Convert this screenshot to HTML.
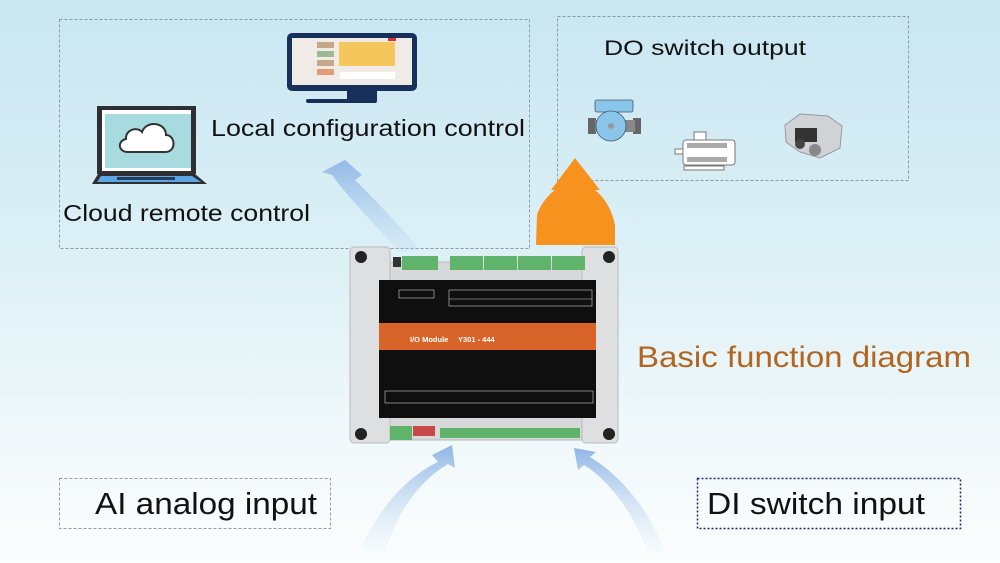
<!DOCTYPE html>
<html><head><meta charset="utf-8"><style>
html,body{margin:0;padding:0;}
body{width:1000px;height:563px;overflow:hidden;background:linear-gradient(180deg,#c9e6f1 0%,#dcf0f6 45%,#f2f9fb 80%,#fbfdfe 100%);font-family:"Liberation Sans","DejaVu Sans",sans-serif;}
svg{position:absolute;left:0;top:0;}
</style></head><body>
<svg width="1000" height="563" viewBox="0 0 1000 563">
<defs>
<linearGradient id="bl" x1="0" y1="1" x2="0" y2="0">
<stop offset="0" stop-color="#b9d6f2" stop-opacity="0.2"/>
<stop offset="1" stop-color="#8fb6e6" stop-opacity="0.95"/>
</linearGradient>
<linearGradient id="bl2" x1="0" y1="1" x2="0" y2="0">
<stop offset="0" stop-color="#d6e8f7" stop-opacity="0.1"/>
<stop offset="1" stop-color="#8ab2e3" stop-opacity="0.95"/>
</linearGradient>
</defs>
<rect x="59.5" y="19.5" width="470" height="229" fill="none" stroke="#8a9aa6" stroke-dasharray="3,2"/>
<rect x="557.5" y="16.5" width="351" height="164" fill="none" stroke="#8a9aa6" stroke-dasharray="3,2"/>
<path d="M420,250 C395,220 370,195 355,180 L362,175 L345,160 L322,172 L332,175 C350,200 380,230 400,252 Z" fill="url(#bl)"/>
<path d="M360,550 C380,505 410,475 438,462 L432,455 L452,445 L455,468 L448,464 C420,480 395,515 385,553 Z" fill="url(#bl2)"/>
<path d="M648,553 C630,505 605,478 584,465 L578,470 L574,448 L596,452 L590,457 C620,475 650,510 665,553 Z" fill="url(#bl2)"/>
<path d="M536,245 L537,215 C540,205 548,195 555,190 L551,190 L575,158 L600,190 L595,190 C605,198 612,210 615,225 L615,245 Z" fill="#f7921e"/>
<rect x="287" y="33" width="130" height="58" rx="5" fill="#16305a"/>
<rect x="292" y="38" width="120" height="47" fill="#f1ebe7"/>
<rect x="317" y="42" width="17" height="6" fill="#c5a88a"/>
<rect x="317" y="51" width="17" height="6" fill="#9cb993"/>
<rect x="317" y="60" width="17" height="6" fill="#c5a88a"/>
<rect x="317" y="69" width="17" height="6" fill="#e59a78"/>
<rect x="339" y="42" width="56" height="24" fill="#f5c65b"/>
<rect x="340" y="72" width="55" height="7" fill="#fff"/>
<rect x="388" y="38" width="8" height="3" fill="#d33"/>
<rect x="347" y="91" width="30" height="9" fill="#16305a"/>
<rect x="306" y="99" width="71" height="4" rx="2" fill="#16305a"/>
<rect x="97" y="106" width="99" height="68" fill="#2d2f33"/>
<rect x="102" y="110" width="89" height="61" fill="#fff"/>
<rect x="105" y="114" width="86" height="54" fill="#a8dbe0"/>
<path d="M128,152 C118,152 117,141 126,139 C125,130 137,126 142,132 C146,120 166,122 166,135 C175,135 177,151 166,152 Z" fill="#fff" stroke="#333" stroke-width="2"/>
<path d="M92,184 L98,174 L195,174 L207,184 Z" fill="#2d2f33"/>
<path d="M97,182 L101,176 L192,176 L201,182 Z" fill="#5aa6e6"/>
<rect x="117" y="177" width="58" height="3" fill="#2d3c55"/>
<rect x="588" y="118" width="8" height="16" fill="#666"/>
<rect x="633" y="118" width="8" height="16" fill="#666"/>
<rect x="595" y="120" width="40" height="12" fill="#888"/>
<rect x="595" y="100" width="38" height="12" rx="2" fill="#8ac6ea" stroke="#456" stroke-width="0.8"/>
<circle cx="611" cy="126" r="15" fill="#8ac6ea" stroke="#456" stroke-width="0.8"/>
<circle cx="611" cy="126" r="3" fill="#999"/>
<rect x="683" y="140" width="52" height="25" rx="3" fill="#fff" stroke="#777"/>
<rect x="687" y="143" width="40" height="5" fill="#aaa"/>
<rect x="687" y="157" width="40" height="5" fill="#aaa"/>
<rect x="694" y="132" width="12" height="8" fill="#fff" stroke="#777"/>
<rect x="675" y="149" width="8" height="5" fill="#fff" stroke="#777"/>
<rect x="684" y="166" width="40" height="4" fill="#fff" stroke="#777"/>
<path d="M785,125 L800,114 L828,116 L842,126 L840,148 L820,158 L800,152 L786,142 Z" fill="#cfd3d6" stroke="#999"/>
<rect x="795" y="128" width="22" height="14" fill="#333"/>
<circle cx="815" cy="150" r="6" fill="#888"/>
<circle cx="800" cy="144" r="5" fill="#444"/>
<rect x="358" y="262" width="254" height="178" fill="#d6d8d9" stroke="#b8bbbd"/>
<rect x="350" y="247" width="40" height="196" rx="4" fill="#dedfe0" stroke="#bbb"/>
<rect x="582" y="247" width="36" height="196" rx="4" fill="#dedfe0" stroke="#bbb"/>
<circle cx="361" cy="257" r="6" fill="#222"/><circle cx="609" cy="257" r="6" fill="#222"/>
<circle cx="361" cy="434" r="6" fill="#222"/><circle cx="609" cy="434" r="6" fill="#222"/>
<rect x="393" y="257" width="8" height="10" fill="#333"/>
<rect x="402" y="256" width="36" height="14" fill="#5fb36a"/>
<rect x="450" y="256" width="33" height="14" fill="#5fb36a"/>
<rect x="484" y="256" width="33" height="14" fill="#5fb36a"/>
<rect x="518" y="256" width="33" height="14" fill="#5fb36a"/>
<rect x="552" y="256" width="33" height="14" fill="#5fb36a"/>
<rect x="379" y="280" width="217" height="138" fill="#0f0f10"/>
<rect x="379" y="323" width="217" height="27" fill="#d8642a"/>
<text x="410" y="342" font-size="7.5" font-weight="bold" fill="#fff">I/O Module</text>
<text x="458" y="342" font-size="7.5" font-weight="bold" fill="#fff">Y301 - 444</text>
<rect x="399" y="290" width="35" height="8" fill="none" stroke="#ccc" stroke-width="0.6"/>
<rect x="449" y="290" width="143" height="16" fill="none" stroke="#ccc" stroke-width="0.6"/>
<line x1="449" y1="299" x2="592" y2="299" stroke="#ccc" stroke-width="0.5"/>
<rect x="385" y="391" width="208" height="12" fill="none" stroke="#ccc" stroke-width="0.6"/>
<rect x="390" y="426" width="22" height="14" fill="#5fb36a"/>
<rect x="413" y="426" width="22" height="10" fill="#c84848"/>
<rect x="440" y="428" width="140" height="10" fill="#5fb36a"/>
<text x="604" y="55" font-size="21" fill="#111" textLength="202" lengthAdjust="spacingAndGlyphs">DO switch output</text>
<text x="211" y="136" font-size="23" fill="#111" textLength="314" lengthAdjust="spacingAndGlyphs">Local configuration control</text>
<text x="63" y="221" font-size="23" fill="#111" textLength="247" lengthAdjust="spacingAndGlyphs">Cloud remote control</text>
<text x="637" y="367" font-size="30" fill="#b3651f" textLength="334" lengthAdjust="spacingAndGlyphs">Basic function diagram</text>
<rect x="59.5" y="478.5" width="271" height="50" fill="none" stroke="#999" stroke-dasharray="3,2"/>
<text x="95" y="514" font-size="31" fill="#111" textLength="222" lengthAdjust="spacingAndGlyphs">AI analog input</text>
<rect x="697.5" y="478.5" width="263" height="50" fill="none" stroke="#1a2a7a" stroke-dasharray="2,2" stroke-width="1.5"/>
<text x="707" y="514" font-size="31" fill="#111" textLength="218" lengthAdjust="spacingAndGlyphs">DI switch input</text>
</svg>
</body></html>
